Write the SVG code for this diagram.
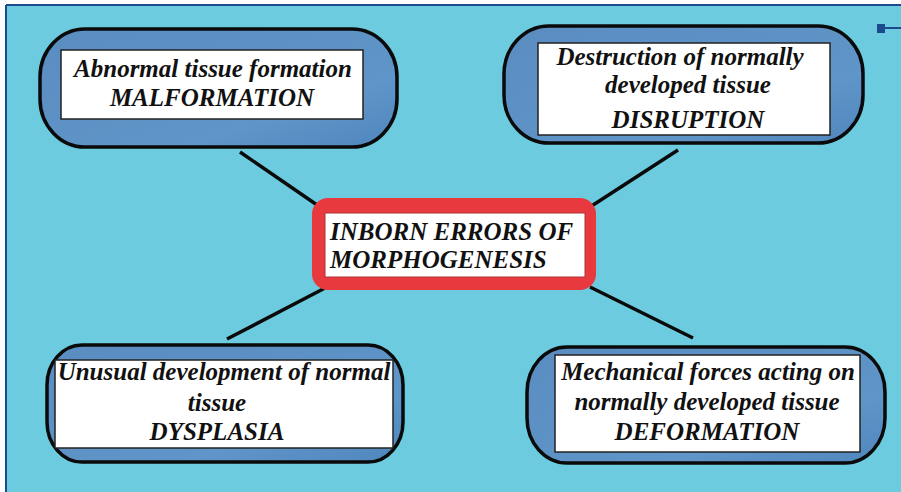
<svg xmlns="http://www.w3.org/2000/svg" width="901" height="492" viewBox="0 0 901 492">
<defs>
<linearGradient id="blueg" x1="0" y1="0" x2="1" y2="1">
<stop offset="0" stop-color="#5a8cc0"/>
<stop offset="0.7" stop-color="#5f95c8"/>
<stop offset="1" stop-color="#4f86bd"/>
</linearGradient>
<style>
.blob{fill:url(#blueg);stroke:#0a0a0a;stroke-width:3.5}
.inner{fill:#ffffff;stroke:#222;stroke-width:1.5}
.t{font-family:"Liberation Serif","Times New Roman",serif;font-weight:bold;font-style:italic;font-size:25px;fill:#111;text-anchor:middle}
.tl{text-anchor:start}
.conn line{stroke:#0a0a0a;stroke-width:3.5}
</style>
</defs>
<rect x="0" y="0" width="901" height="492" fill="#ffffff"/>
<rect x="6" y="5" width="895" height="487" fill="#6ccbdf"/>
<g id="frame" stroke="#1b4b8c" stroke-width="2" fill="none">
<line x1="6" y1="5" x2="901" y2="5"/>
<line x1="6" y1="5" x2="6" y2="492"/>
<line x1="880" y1="28" x2="901" y2="28"/>
</g>
<rect x="877" y="24" width="8" height="9" fill="#1b4b8c"/>
<g id="connectors" class="conn">
<line x1="240" y1="152" x2="320" y2="207"/>
<line x1="678" y1="150" x2="590" y2="207"/>
<line x1="325" y1="288" x2="227" y2="339"/>
<line x1="590" y1="287" x2="693" y2="338"/>
</g>
<g id="malformation">
<rect class="blob" x="40" y="29" width="357" height="118" rx="45" ry="48"/>
<rect class="inner" x="61" y="50" width="302" height="69"/>
<text class="t" x="213" y="77">Abnormal tissue formation</text>
<text class="t" x="212" y="106">MALFORMATION</text>
</g>
<g id="disruption">
<rect class="blob" x="504" y="26" width="359" height="117" rx="45" ry="48"/>
<rect class="inner" x="538" y="43" width="292" height="92"/>
<text class="t" x="680" y="65">Destruction of normally</text>
<text class="t" x="688" y="93">developed tissue</text>
<text class="t" x="688" y="128">DISRUPTION</text>
</g>
<g id="center">
<rect x="312" y="198" width="284" height="92" rx="16" ry="16" fill="#e8393f"/>
<rect x="325" y="213" width="260" height="64" fill="#ffffff" stroke="#a33" stroke-width="1"/>
<text class="t tl" x="330" y="240">INBORN ERRORS OF</text>
<text class="t tl" x="330" y="268">MORPHOGENESIS</text>
</g>
<g id="dysplasia">
<rect class="blob" x="47" y="345" width="356" height="117" rx="35" ry="40"/>
<rect class="inner" x="55" y="360" width="338" height="88"/>
<text class="t" x="224" y="380">Unusual development of normal</text>
<text class="t" x="217" y="411">tissue</text>
<text class="t" x="217" y="440">DYSPLASIA</text>
</g>
<g id="deformation">
<rect class="blob" x="527" y="347" width="358" height="116" rx="40" ry="45"/>
<rect class="inner" x="555" y="355" width="305" height="97"/>
<text class="t" x="708" y="380">Mechanical forces acting on</text>
<text class="t" x="707" y="410">normally developed tissue</text>
<text class="t" x="707" y="440">DEFORMATION</text>
</g>
</svg>
